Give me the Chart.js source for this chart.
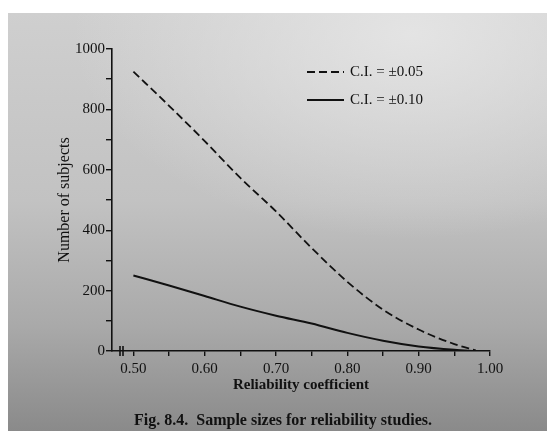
<!DOCTYPE html>
<html>
<head>
<meta charset="utf-8">
<script src="https://cdn.jsdelivr.net/npm/chart.js@4"></script>
<style>
  html, body { margin: 0; padding: 0; background: #fff; }
  #wrap { position: relative; width: 547px; height: 431px; }
  #paper {
    position: absolute; left: 8px; top: 13px; width: 539px; height: 418px;
    background:
      radial-gradient(ellipse 90% 70% at 75% 5%, rgba(230,230,230,0.9) 0%, rgba(220,220,220,0) 70%),
      linear-gradient(180deg, #cfcfcf 0%, #c2c2c2 45%, #a9a9a9 75%, #8a8a8a 100%);
  }
  canvas { position: absolute; left: 0; top: 0; }
</style>
</head>
<body>
<div id="wrap">
  <div id="paper"></div>
  <canvas id="chart" width="547" height="431"></canvas>
</div>
<script>
// values
const reliability = [0.50, 0.55, 0.60, 0.65, 0.70, 0.75, 0.80, 0.85, 0.90, 0.95, 0.98];
const ci05 = [925, 812, 695, 573, 462, 341, 229, 137, 71, 23, 2];
const ci10 = [250, 217, 182, 147, 117, 91, 60, 34, 15, 4, 0];

const xTicks = [0.50, 0.55, 0.60, 0.65, 0.70, 0.75, 0.80, 0.85, 0.90, 0.95, 1.00];
const xLabels = ['0.50', '', '0.60', '', '0.70', '', '0.80', '', '0.90', '', '1.00'];
const yTicks = [0, 100, 200, 300, 400, 500, 600, 700, 800, 900, 1000];
const caption = 'Fig. 8.4.  Sample sizes for reliability studies.';

const serif = '"Liberation Serif", "DejaVu Serif", serif';
const ink = '#111';

// legend top right, the axis break marks and the figure caption
const extras = {
  id: 'extras',
  afterDraw(chart) {
    const ctx = chart.ctx;
    const area = chart.chartArea;
    ctx.save();
    ctx.strokeStyle = ink;
    ctx.fillStyle = ink;
    ctx.lineWidth = 1.6;
    // axis break
    [8, 11].forEach(dx => {
      ctx.beginPath();
      ctx.moveTo(area.left + dx, area.bottom - 5);
      ctx.lineTo(area.left + dx, area.bottom + 5);
      ctx.stroke();
    });
    // legend
    ctx.font = '15px ' + serif;
    ctx.textBaseline = 'middle';
    chart.data.datasets.forEach((ds, i) => {
      const y = 72 + i * 28;
      ctx.setLineDash(ds.borderDash || []);
      ctx.lineWidth = ds.borderWidth;
      ctx.beginPath();
      ctx.moveTo(307, y);
      ctx.lineTo(344, y);
      ctx.stroke();
      ctx.setLineDash([]);
      ctx.fillText(ds.label, 350, y);
    });
    // caption
    ctx.font = 'bold 16px ' + serif;
    ctx.textAlign = 'center';
    ctx.fillText(caption, 283, 421);
    ctx.restore();
  }
};

const ctx = document.getElementById('chart').getContext('2d');
new Chart(ctx, {
  type: 'line',
  data: {
    datasets: [
      {
        label: 'C.I. = \u00b10.05',
        data: reliability.map((x, i) => ({ x: x, y: ci05[i] })),
        borderColor: ink,
        borderWidth: 1.8,
        borderDash: [8, 4],
        pointRadius: 0,
        cubicInterpolationMode: 'monotone'
      },
      {
        label: 'C.I. = \u00b10.10',
        data: reliability.map((x, i) => ({ x: x, y: ci10[i] })),
        borderColor: ink,
        borderWidth: 2,
        pointRadius: 0,
        cubicInterpolationMode: 'monotone'
      }
    ]
  },
  plugins: [extras],
  options: {
    responsive: false,
    animation: false,
    layout: { padding: { left: 0, right: 57, top: 49, bottom: 19 } },
    plugins: {
      legend: { display: false },
      tooltip: { enabled: false }
    },
    scales: {
      x: {
        type: 'linear',
        min: 0.47,
        max: 1.0,
        afterBuildTicks: s => { s.ticks = xTicks.map(v => ({ value: v })); },
        afterFit: s => { s.height = 61; },
        border: { display: true, color: ink, width: 1.6 },
        grid: { drawOnChartArea: false, drawTicks: true, tickLength: 5, color: ink, lineWidth: 1.4 },
        ticks: {
          color: ink,
          padding: 4,
          maxRotation: 0,
          autoSkip: false,
          font: { family: serif, size: 15 },
          callback: (v, i) => xLabels[i]
        },
        title: {
          display: true,
          text: 'Reliability coefficient',
          color: ink,
          font: { family: serif, size: 15, weight: 'bold' },
          padding: { top: 0, bottom: 18 }
        }
      },
      y: {
        min: 0,
        max: 1000,
        afterBuildTicks: s => { s.ticks = yTicks.map(v => ({ value: v })); },
        afterFit: s => { s.width = 112; },
        border: { display: true, color: ink, width: 1.6 },
        grid: { drawOnChartArea: false, drawTicks: true, tickLength: 6, color: ink, lineWidth: 1.4 },
        ticks: {
          color: ink,
          padding: 1,
          autoSkip: false,
          font: { family: serif, size: 15 },
          callback: v => (v % 200 === 0 ? String(v) : '')
        },
        title: {
          display: true,
          text: 'Number of subjects',
          color: ink,
          font: { family: serif, size: 16 },
          padding: { top: 55, bottom: 0 }
        }
      }
    }
  }
});
</script>
</body>
</html>
